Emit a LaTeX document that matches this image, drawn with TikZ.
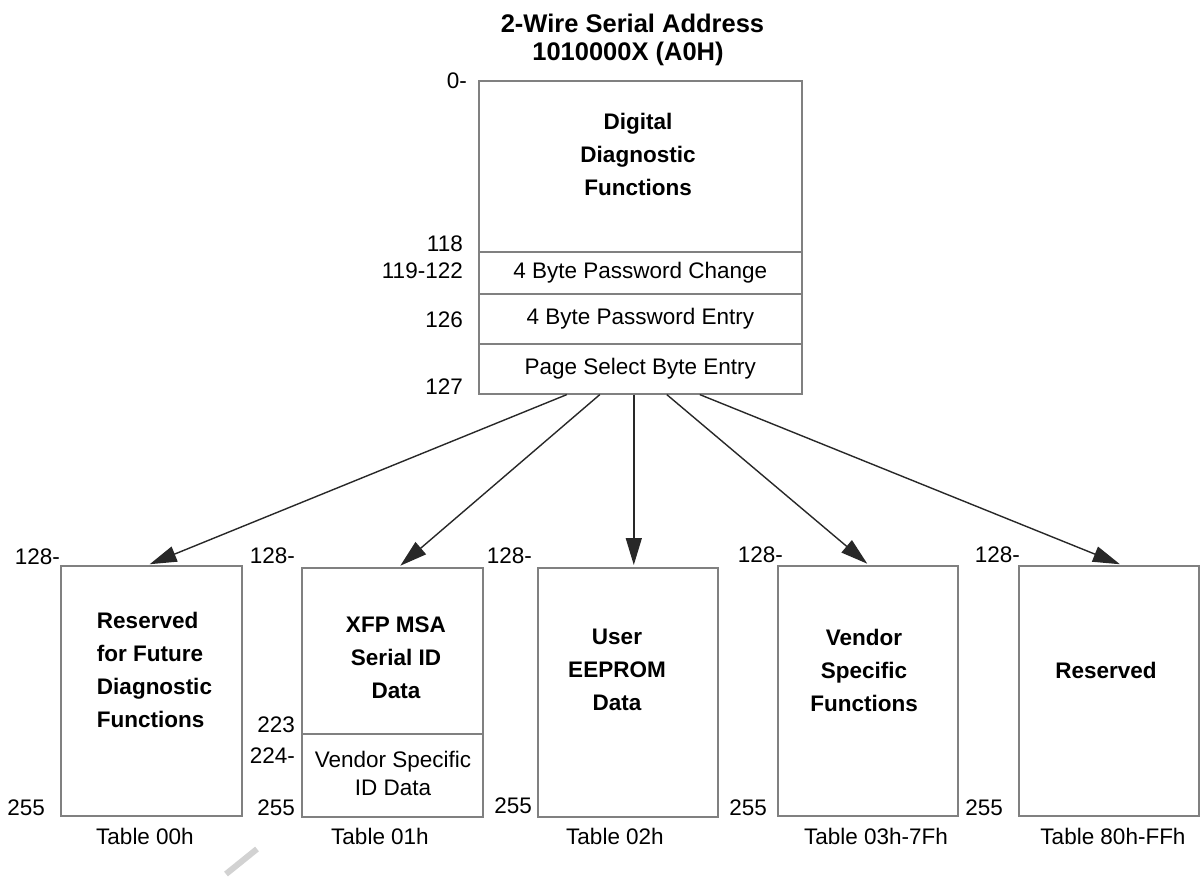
\documentclass[tikz,border=0pt]{standalone}
\usepackage{fontspec}
\setmainfont{Liberation Sans}
\usetikzlibrary{arrows.meta}
\definecolor{boxgray}{RGB}{128,128,128}
\definecolor{linegray}{RGB}{40,40,40}
\begin{document}
\begin{tikzpicture}[x=1pt,y=-1pt,
 box/.style={draw=boxgray,line width=1.6pt,inner sep=0pt,anchor=north west},
 reg/.style={font=\fontsize{22.5}{28}\selectfont,inner sep=0pt},
 bld/.style={font=\fontsize{22.5}{33}\selectfont\bfseries,inner sep=0pt,align=center},
 ttl/.style={font=\fontsize{25.5}{30}\selectfont\bfseries,inner sep=0pt},
 lbl/.style={font=\fontsize{22.5}{27}\selectfont,inner sep=0pt,anchor=east},
 arr/.style={draw=linegray,line width=1.4pt,shorten >=2pt,-{Triangle[length=27pt,width=16pt]}}]
\useasboundingbox[fill=white] (0,0) rectangle (1200,878);

% title
\node[ttl] (title1) at (632.5,23) {2-Wire Serial Address};
\node[ttl] (title2) at (628,54) {1010000X (A0H)};

% top memory map
\node[box,minimum width=323pt,minimum height=171pt] (ddf) at (478,80) {};
\node[bld] (ddft) at (638,154) {Digital\\Diagnostic\\Functions};
\node[box,reg,minimum width=323pt,minimum height=42pt] (pwc) at (478,251) {4 Byte Password Change};
\node[box,reg,minimum width=323pt,minimum height=50pt] (pwe) at (478,293) {4 Byte Password Entry};
\node[box,reg,minimum width=323pt,minimum height=50pt] (psb) at (478,343) {Page Select Byte Entry};

\node[lbl] (l0) at (467,81) {0-};
\node[lbl] (l118) at (463,244) {118};
\node[lbl] (l119) at (463,271) {119-122};
\node[lbl] (l126) at (463,319.5) {126};
\node[lbl] (l127) at (463,387) {127};

% bottom tables
\node[box,minimum width=181pt,minimum height=250pt] (b1) at (60,565) {};
\node[bld,align=left] (b1t) at (154.5,669.5) {Reserved\\for Future\\Diagnostic\\Functions};

\node[box,minimum width=181pt,minimum height=166pt] (b2) at (301,567) {};
\node[box,minimum width=181pt,minimum height=83pt] (b2v) at (301,733) {};
\node[bld] (b2t) at (396,658) {XFP MSA\\Serial ID\\Data};
\node[reg,align=center] (b2vt) at (393,773) {Vendor Specific\\ID Data};

\node[box,minimum width=180pt,minimum height=249pt] (b3) at (537,567) {};
\node[bld] (b3t) at (617,670) {User\\EEPROM\\Data};

\node[box,minimum width=180pt,minimum height=250pt] (b4) at (777,565) {};
\node[bld] (b4t) at (864,670) {Vendor\\Specific\\Functions};

\node[box,minimum width=180pt,minimum height=250pt] (b5) at (1018,565) {};
\node[bld] (b5t) at (1106,670) {Reserved};

% address labels
\node[lbl] (a1s) at (60,557) {128-};
\node[lbl] (a1e) at (45,807.5) {255};
\node[lbl] (a2s) at (295,556) {128-};
\node[lbl] (a2m) at (295,724.5) {223};
\node[lbl] (a2n) at (295,755.5) {224-};
\node[lbl] (a2e) at (295,807.5) {255};
\node[lbl] (a3s) at (532,556) {128-};
\node[lbl] (a3e) at (532,806) {255};
\node[lbl] (a4s) at (783,554.5) {128-};
\node[lbl] (a4e) at (767,807.5) {255};
\node[lbl] (a5s) at (1020,554.5) {128-};
\node[lbl] (a5e) at (1003,807.5) {255};

% table captions
\node[reg] (c1) at (145,836) {Table 00h};
\node[reg] (c2) at (380,836) {Table 01h};
\node[reg] (c3) at (615,836) {Table 02h};
\node[reg] (c4) at (876,836) {Table 03h-7Fh};
\node[reg] (c5) at (1113,836) {Table 80h-FFh};

% arrows
\draw[arr] ([xshift=-73.5pt]psb.south) -- ([xshift=-3.5pt]b1.north);
\draw[arr] ([xshift=-40.5pt]psb.south) -- ([xshift=6.5pt]b2.north);
\draw[arr] ([xshift=-6.5pt]psb.south) -- ([xshift=6pt]b3.north);
\draw[arr] ([xshift=26.5pt]psb.south) -- ([xshift=1pt]b4.north);
\draw[arr] ([xshift=59.5pt]psb.south) -- ([xshift=13pt]b5.north);

% faint mark
\draw[line width=6pt,gray!35] (226,874) -- (257,849);
\end{tikzpicture}
\end{document}
